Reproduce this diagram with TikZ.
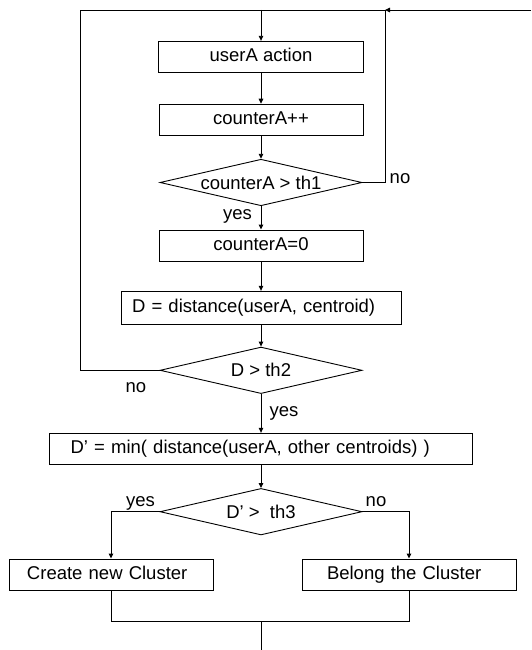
\documentclass[tikz,border=0pt]{standalone}
\usepackage{fontspec}
\setmainfont{Liberation Sans}
\usetikzlibrary{arrows.meta,shapes.geometric}
\begin{document}
\begin{tikzpicture}[x=1pt,y=-1pt,
  line width=0.9pt,
  txt/.style={font=\fontsize{18.5}{22}\selectfont},
  box/.style={txt, draw, rectangle, inner sep=0pt, minimum height=31pt, text height=13.5pt, text depth=3.9pt},
  dec/.style={txt, draw, diamond, aspect=4.3, inner sep=0pt, minimum width=202pt, minimum height=46.5pt},
  lbl/.style={txt, inner sep=0pt, anchor=base},
  arr/.style={-{Triangle[length=5pt,width=4.5pt]}}
]
\useasboundingbox (0,0) rectangle (531,650);

\node[box, minimum width=205pt] (b1) at (261,56.8) {userA action};
\node[box, minimum width=204pt] (b2) at (261,119.7) {counterA++};
\node[dec] (d1) at (261,182.5) {counterA > th1};
\node[box, minimum width=204pt] (b3) at (261,245.5) {counterA=0};
\node[box, minimum width=280pt, minimum height=33pt, text width=258pt, inner xsep=11pt, align=left] (b4) at (261,307.8) {D = distance(userA, centroid)};
\node[dec] (d2) at (261,370.3) {D > th2};
\node[box, minimum width=423pt, text width=381pt, inner xsep=21pt, align=left] (b5) at (261,448.8) {D’ = min( distance(userA, other centroids) )};
\node[dec] (d3) at (261,511.7) {D’ >\ \ th3};
\node[box, minimum width=204pt, text width=168pt, inner xsep=18pt, align=left] (b6) at (111,574.5) {Create new Cluster};
\node[box, minimum width=214pt, text width=164pt, inner xsep=25pt, align=left] (b7) at (409,574.5) {Belong the Cluster};

\coordinate (tl) at (80,10);
\coordinate (tr) at (385,10);
\coordinate (te) at (531,10);
\coordinate (tc) at (261,10);
\coordinate (mb) at (261,621.5);
\coordinate (bot) at (261,650);

\draw (d2.west) -| (tl) -- (tr);
\draw[arr] (te) -- (tr);
\draw (d1.east) -| (tr);
\draw[arr] (tc) -- (b1.north);
\draw[arr] (b1) -- (b2);
\draw[arr] (b2) -- (d1);
\draw[arr] (d1) -- (b3);
\draw[arr] (b3) -- (b4);
\draw[arr] (b4) -- (d2);
\draw[arr] (d2) -- (b5);
\draw[arr] (b5) -- (d3);
\draw[arr] (d3.west) -| (b6.north);
\draw[arr] (d3.east) -| (b7.north);
\draw (b6.south) |- (mb) -| (b7.south);
\draw (mb) -- (bot);

\node[lbl] (no1) at (400,183) {no};
\node[lbl] (yes1) at (237.5,219) {yes};
\node[lbl] (no2) at (136,392) {no};
\node[lbl] (yes2) at (284,416) {yes};
\node[lbl] (yes3) at (140.5,506) {yes};
\node[lbl] (no3) at (376,506) {no};
\end{tikzpicture}
\end{document}
